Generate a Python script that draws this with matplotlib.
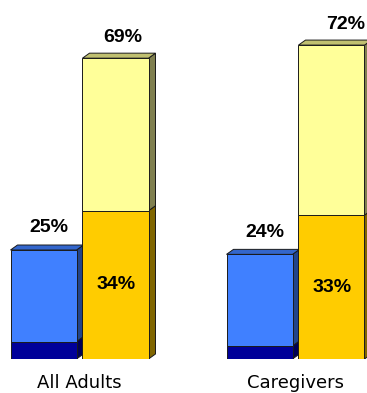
import matplotlib
matplotlib.use("Agg")
import matplotlib.pyplot as plt
from matplotlib.patches import Polygon

categories = ["All Adults", "Caregivers"]
blue_total = [25, 24]
blue_dark = [4, 3]
orange_vals = [34, 33]
yellow_total = [69, 72]

W, H = 367, 393
fig = plt.figure(figsize=(W / 100, H / 100), dpi=100)
base_px = 34
ax = fig.add_axes([0, base_px / H, 1, (H - base_px) / H])
px_per_unit_y = 4.36
px_per_unit_x = 216.0
ax.set_ylim(0, (H - base_px) / px_per_unit_y)
ax.set_xlim(-79.5 / px_per_unit_x, (W - 79.5) / px_per_unit_x)
ax.axis("off")

bw = 66 / px_per_unit_x
off = 36 / px_per_unit_x
dx = 7 / px_per_unit_x
dy = 5 / px_per_unit_y

ec = "#1a1a1a"
lw = 0.7


def bar3d(xc, y0, y1, front, side, top, draw_top):
    ax.bar(xc, y1 - y0, bottom=y0, width=bw, color=front, edgecolor=ec,
           linewidth=lw, zorder=3)
    xr = xc + bw / 2
    ax.add_patch(Polygon([(xr, y0), (xr + dx, y0 + dy), (xr + dx, y1 + dy), (xr, y1)],
                         closed=True, facecolor=side, edgecolor=ec, linewidth=lw, zorder=2))
    if draw_top:
        xl = xc - bw / 2
        ax.add_patch(Polygon([(xl, y1), (xl + dx, y1 + dy), (xr + dx, y1 + dy), (xr, y1)],
                             closed=True, facecolor=top, edgecolor=ec, linewidth=lw, zorder=2))


lab_font = dict(family=["Liberation Sans", "DejaVu Sans"], fontsize=14, fontweight="bold")
yl_dx = [3, 8]

for i in range(len(categories)):
    xb = i - off
    xy = i + off
    bar3d(xb, 0, blue_dark[i], "#000099", "#000055", "#1f3f99", False)
    bar3d(xb, blue_dark[i], blue_total[i], "#4080FF", "#22448a", "#3366cc", True)
    bar3d(xy, 0, orange_vals[i], "#FFCC00", "#806600", "#c09900", False)
    bar3d(xy, orange_vals[i], yellow_total[i], "#FFFF99", "#808050", "#c0c070", True)

    ax.annotate(f"{blue_total[i]}%", (xb + dx / 2, blue_total[i]), xytext=(1, 16),
                textcoords="offset points", ha="center", va="center", **lab_font)
    ax.annotate(f"{yellow_total[i]}%", (xy + dx / 2, yellow_total[i]), xytext=(yl_dx[i], 15),
                textcoords="offset points", ha="center", va="center", **lab_font)
    ax.text(xy + 1 / px_per_unit_x, orange_vals[i] / 2, f"{orange_vals[i]}%",
            ha="center", va="center", zorder=5, **lab_font)
    ax.annotate(categories[i], (i, 0), xytext=(0, -17), textcoords="offset points",
                ha="center", va="center", family=["DejaVu Sans"], fontsize=13)

fig.savefig("out.png", dpi=100)
